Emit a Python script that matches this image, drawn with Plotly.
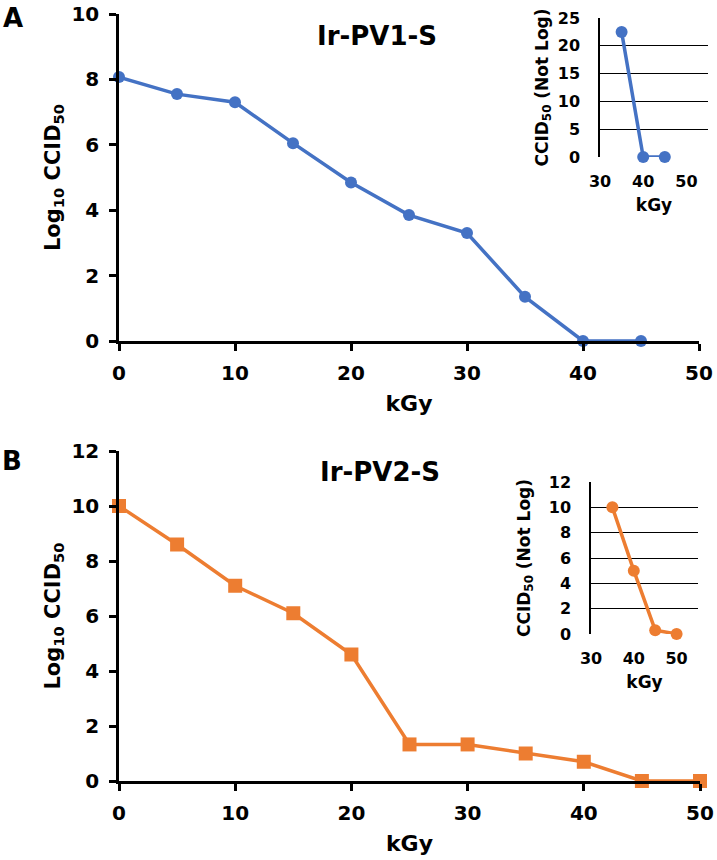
import plotly.graph_objects as go

# panel A: Ir-PV1-S
dose_a = [0, 5, 10, 15, 20, 25, 30, 35, 40, 45]
log_a = [8.07, 7.55, 7.3, 6.05, 4.85, 3.85, 3.3, 1.35, 0, 0]
inset_dose_a = [35, 40, 45]
inset_val_a = [22.5, 0, 0]

# panel B: Ir-PV2-S
dose_b = [0, 5, 10, 15, 20, 25, 30, 35, 40, 45, 50]
log_b = [10.0, 8.6, 7.1, 6.1, 4.6, 1.33, 1.33, 1.0, 0.7, 0, 0]
inset_dose_b = [35, 40, 45, 50]
inset_val_b = [10, 5, 0.3, 0]

BLUE = '#4472C4'
ORANGE = '#ED7D31'
FONT = 'DejaVu Sans'
W, H = 717, 860


def px(x):
    return x / W


def py(y):
    return 1 - y / H


def bold(size):
    return dict(family=FONT, size=size, color='black', weight='bold')


fig = go.Figure()

fig.add_trace(go.Scatter(x=dose_a, y=log_a, mode='lines+markers', xaxis='x', yaxis='y',
                         line=dict(color=BLUE, width=3.5), marker=dict(size=12, color=BLUE),
                         cliponaxis=False))
fig.add_trace(go.Scatter(x=inset_dose_a, y=inset_val_a, mode='lines+markers', xaxis='x2', yaxis='y2',
                         line=dict(color=BLUE, width=3.5), marker=dict(size=12, color=BLUE),
                         cliponaxis=False))
fig.add_trace(go.Scatter(x=dose_b, y=log_b, mode='lines+markers', xaxis='x3', yaxis='y3',
                         line=dict(color=ORANGE, width=3.5),
                         marker=dict(size=14, color=ORANGE, symbol='square'),
                         cliponaxis=False))
fig.add_trace(go.Scatter(x=inset_dose_b, y=inset_val_b, mode='lines+markers', xaxis='x4', yaxis='y4',
                         line=dict(color=ORANGE, width=3.5), marker=dict(size=12, color=ORANGE),
                         cliponaxis=False))

main_x = dict(range=[0, 50], dtick=10, showline=True, linecolor='black', linewidth=2.5,
              ticks='outside', ticklen=7, tickwidth=2.5, tickcolor='black',
              showgrid=False, zeroline=False, tickfont=bold(20), automargin=False,
              ticklabelstandoff=5,
              title=dict(text='kGy', font=bold(22), standoff=12))
main_y = dict(dtick=2, showline=True, linecolor='black', linewidth=2.5,
              ticks='outside', ticklen=7, tickwidth=2.5, tickcolor='black',
              showgrid=False, zeroline=False, tickfont=bold(20), automargin=False,
              ticklabelstandoff=6,
              title=dict(text='Log<sub>10</sub> CCID<sub>50</sub>', font=bold(21), standoff=6))
inset_x = dict(range=[30, 55], dtick=10, showline=False, showgrid=False, zeroline=False,
               ticks='', tickfont=bold(16), automargin=False, ticklabelstandoff=13,
               title=dict(text='kGy', font=bold(17), standoff=9))
inset_y = dict(showline=True, linecolor='black', linewidth=1.5, showgrid=True,
               gridcolor='black', gridwidth=1, zeroline=False, ticks='', tickfont=bold(16),
               automargin=False, ticklabelstandoff=15)

fig.update_layout(
    width=W, height=H,
    margin=dict(l=0, r=0, t=0, b=0),
    paper_bgcolor='white', plot_bgcolor='white',
    showlegend=False,
    xaxis=dict(main_x, domain=[px(119), px(699)], anchor='y'),
    yaxis=dict(main_y, range=[0, 10], domain=[py(341), py(14)], anchor='x'),
    xaxis2=dict(inset_x, domain=[px(600), px(708)], anchor='y2'),
    yaxis2=dict(inset_y, range=[0, 25], dtick=5, domain=[py(157), py(18)], anchor='x2',
                title=dict(text='CCID<sub>50</sub> (Not Log)', font=bold(17), standoff=5)),
    xaxis3=dict(main_x, domain=[px(119), px(700)], anchor='y3'),
    yaxis3=dict(main_y, range=[0, 12], domain=[py(781), py(451)], anchor='x3'),
    xaxis4=dict(inset_x, domain=[px(591), px(698)], anchor='y4'),
    yaxis4=dict(inset_y, range=[0, 12], dtick=2, domain=[py(634), py(482)], anchor='x4',
                title=dict(text='CCID<sub>50</sub> (Not Log)', font=bold(17), standoff=14)),
    annotations=[
        dict(text='A', x=px(1), y=py(1), xref='paper', yref='paper', xanchor='left', yanchor='top',
             showarrow=False, font=bold(26)),
        dict(text='B', x=px(0), y=py(444), xref='paper', yref='paper', xanchor='left', yanchor='top',
             showarrow=False, font=bold(26)),
        dict(text='Ir-PV1-S', x=px(377), y=py(36), xref='paper', yref='paper',
             xanchor='center', yanchor='middle', showarrow=False, font=bold(26)),
        dict(text='Ir-PV2-S', x=px(380), y=py(472), xref='paper', yref='paper',
             xanchor='center', yanchor='middle', showarrow=False, font=bold(26)),
    ],
)

fig.write_html('out.html', config={'displayModeBar': False},
               post_script="document.body.style.margin='0';")
